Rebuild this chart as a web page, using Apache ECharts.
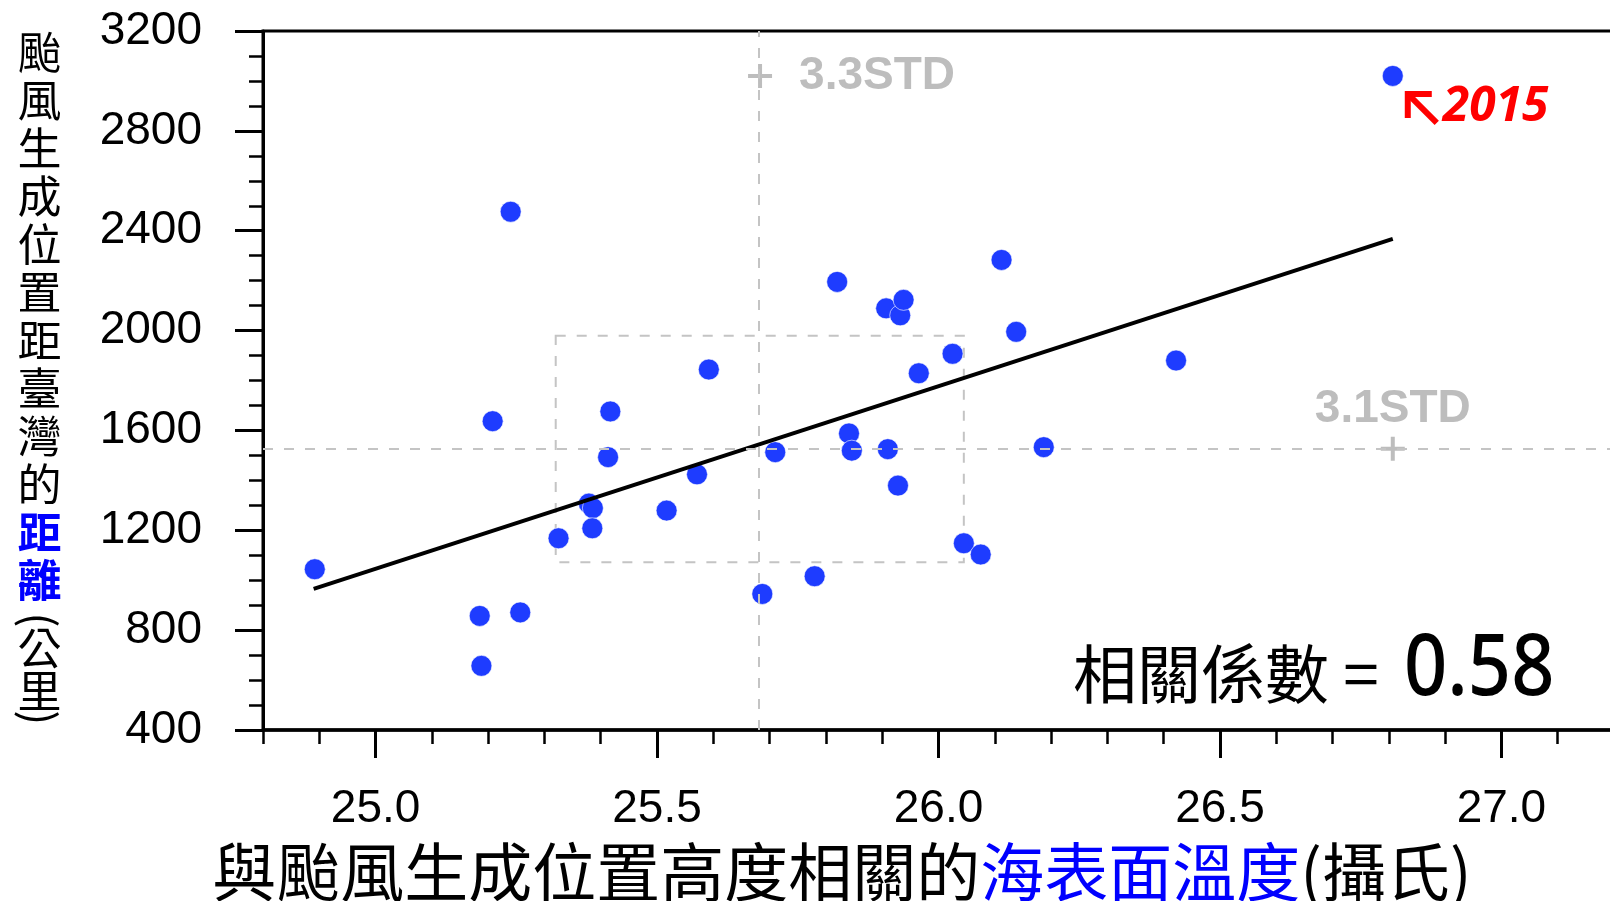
<!DOCTYPE html>
<html><head><meta charset="utf-8">
<script src="https://cdn.jsdelivr.net/npm/echarts@6/dist/echarts.min.js"></script>
<style>html,body{margin:0;padding:0;background:#fff}#c{width:1610px;height:901px}</style>
</head><body><div id="c"></div>
<script>
// ---- data ----
const sstX = [24.892, 25.240, 25.208, 25.185, 25.188, 25.257, 25.325, 25.379, 25.386, 25.385,
              25.413, 25.417, 25.517, 25.571, 25.592, 25.687, 25.710, 25.780, 25.820, 25.841,
              25.846, 25.907, 25.910, 25.928, 25.932, 25.938, 25.965, 26.025, 26.045, 26.075,
              26.112, 26.138, 26.187, 26.422, 26.807];
const distY = [1044, 2476, 1637, 857, 657, 871, 1168, 1307, 1289, 1208,
               1493, 1676, 1279, 1424, 1844, 945, 1513, 1016, 2195, 1588,
               1519, 2089, 1525, 1379, 2061, 2123, 1829, 1907, 1148, 1103,
               2283, 1995, 1533, 1880, 3020];
const xTickValues = [25.0, 25.5, 26.0, 26.5, 27.0];
const yTickValues = [400, 800, 1200, 1600, 2000, 2400, 2800, 3200];
const regX = [24.89, 26.807];
const regY = [965, 2367];
const meanX = 25.683, meanY = 1527;
const boxX = [25.32, 26.045];
const boxY = [1072, 1979];
const stdMarkX = [25.683, 26.807];
const stdMarkY = [3020, 1527];
const stdLabels = ['3.3STD', '3.1STD'];
const highlightIndex = 34;
const highlightLabel = '2015';
const corrLabel = '相關係數 =';
const corrValue = '0.58';

const chart = echarts.init(document.getElementById('c'));
const GRAY = '#bdbdbd';
const tickFont = 'Liberation Sans';

const option = {
  animation: false,
  backgroundColor: '#fff',
  grid: {left: 263, top: 31, width: 1351, height: 699, show: true, borderColor: '#000', borderWidth: 3,
         backgroundColor: 'rgba(0,0,0,0)', containLabel: false, outerBoundsMode: 'none'},
  xAxis: [
    {type: 'value', min: 24.8, max: 27.2, splitNumber: 5, position: 'bottom',
     axisLine: {show: true, onZero: false, lineStyle: {color: '#000', width: 3.5}},
     axisTick: {show: true, length: 28, lineStyle: {color: '#000', width: 3}, customValues: xTickValues},
     axisLabel: {customValues: xTickValues, margin: 56, fontFamily: tickFont, fontSize: 46, color: '#000',
                 formatter: v => Number(v).toFixed(1)},
     splitLine: {show: false}},
    {type: 'value', min: 24.8, max: 27.2, interval: 0.1, position: 'bottom',
     axisLine: {show: false, onZero: false},
     axisTick: {show: true, length: 14, lineStyle: {color: '#000', width: 2.5}},
     axisLabel: {show: false}, splitLine: {show: false}}
  ],
  yAxis: {type: 'value', min: yTickValues[0], max: yTickValues[yTickValues.length - 1], interval: 400,
    axisLine: {show: true, onZero: false, lineStyle: {color: '#000', width: 3}},
    axisTick: {show: true, length: 28, lineStyle: {color: '#000', width: 3}},
    minorTick: {show: true, splitNumber: 4, length: 14, lineStyle: {color: '#000', width: 2.5}},
    axisLabel: {margin: 61, fontFamily: tickFont, fontSize: 46, color: '#000', formatter: v => String(v)},
    splitLine: {show: false}, minorSplitLine: {show: false}},
  series: [
    {type: 'scatter', name: 'std', z: 2, xAxisIndex: 0, yAxisIndex: 0,
     symbol: 'path://M5,0H7V5H12V7H7V12H5V7H0V5H5Z', symbolSize: 24,
     itemStyle: {color: GRAY, opacity: 1},
     label: {show: true, fontFamily: tickFont, fontWeight: 'bold', fontSize: 46, color: GRAY},
     data: stdMarkX.map((x, i) => ({
       value: [x, stdMarkY[i]],
       label: i === 0 ? {position: 'right', distance: 27, formatter: stdLabels[i]}
                      : {position: 'top', distance: 4, formatter: stdLabels[i]}
     })),
     markLine: {silent: true, symbol: ['none', 'none'], label: {show: false},
       lineStyle: {color: '#c4c4c4', width: 2, type: [10, 11], opacity: 1},
       data: [{xAxis: meanX}, {yAxis: meanY}]},
     markArea: {silent: true,
       itemStyle: {color: 'rgba(0,0,0,0)', borderColor: '#c4c4c4', borderWidth: 2, borderType: [10, 11]},
       data: [[{xAxis: boxX[0], yAxis: boxY[1]}, {xAxis: boxX[1], yAxis: boxY[0]}]]}
    },
    {type: 'scatter', name: 'points', z: 3, xAxisIndex: 0, yAxisIndex: 0,
     symbolSize: 21,
     itemStyle: {color: '#1e3cff', opacity: 1, borderColor: 'rgba(255,255,255,0.6)', borderWidth: 1},
     data: sstX.map((x, i) => [x, distY[i]])},
    {type: 'line', name: 'reg', z: 4, xAxisIndex: 0, yAxisIndex: 0,
     showSymbol: false, symbol: 'none',
     lineStyle: {color: '#000', width: 4},
     data: regX.map((x, i) => [x, regY[i]])}
  ]
};
chart.setOption(option);

const p = chart.convertToPixel({xAxisIndex: 0, yAxisIndex: 0}, [sstX[highlightIndex], distY[highlightIndex]]);
const cx = p[0] + 15, cy = p[1] + 18;
const cjk = '"Noto Sans CJK TC", "Noto Sans CJK SC", sans-serif';

chart.setOption({graphic: [
  // y-axis title (vertical)
  {type: 'text', x: 39.5, y: 28, style: {text: '颱\n風\n生\n成\n位\n置\n距\n臺\n灣\n的', font: '44px ' + cjk,
    lineHeight: 48, align: 'center', verticalAlign: 'top', fill: '#000'}},
  {type: 'text', x: 39.5, y: 508, style: {text: '距\n離', font: 'bold 44px ' + cjk,
    lineHeight: 48, align: 'center', verticalAlign: 'top', fill: '#0000ff'}},
  {type: 'text', x: 39.5, y: 620, rotation: -Math.PI / 2, style: {text: '(', font: '44px ' + cjk,
    align: 'center', verticalAlign: 'middle', fill: '#000'}},
  {type: 'text', x: 39.5, y: 648, style: {text: '公', font: '44px ' + cjk,
    align: 'center', verticalAlign: 'middle', fill: '#000'}},
  {type: 'text', x: 39.5, y: 691, style: {text: '里', font: '44px ' + cjk,
    align: 'center', verticalAlign: 'middle', fill: '#000'}},
  {type: 'text', x: 39.5, y: 718, rotation: -Math.PI / 2, style: {text: ')', font: '44px ' + cjk,
    align: 'center', verticalAlign: 'middle', fill: '#000'}},
  // x-axis title
  {type: 'text', x: 842, y: 872, style: {
    text: '{k|與颱風生成位置高度相關的}{b|海表面溫度}{k|(攝氏)}',
    font: '64px ' + cjk, align: 'center', verticalAlign: 'middle',
    rich: {k: {fill: '#000', fontSize: 64, fontFamily: cjk},
           b: {fill: '#0000ff', fontSize: 64, fontFamily: cjk}}}},
  // correlation
  {type: 'text', x: 1073, y: 674, style: {text: corrLabel, font: '64px ' + cjk,
    align: 'left', verticalAlign: 'middle', fill: '#000'}},
  {type: 'text', x: 1404, y: 670, scaleX: 0.88, style: {text: corrValue, font: '500 86px "Noto Sans", sans-serif',
    align: 'left', verticalAlign: 'middle', fill: '#000'}},
  // 2015 annotation
  {type: 'polyline', shape: {points: [[cx, cy + 24], [cx, cy], [cx + 24, cy]]},
    style: {stroke: '#ff0000', lineWidth: 6, fill: null, lineJoin: 'miter'}},
  {type: 'line', shape: {x1: cx + 1, y1: cy + 1, x2: cx + 29, y2: cy + 29},
    style: {stroke: '#ff0000', lineWidth: 6}},
  {type: 'text', x: p[0] + 50, y: p[1] + 31, style: {text: highlightLabel,
    font: 'italic bold 48px "Open Sans", sans-serif', align: 'left', verticalAlign: 'middle', fill: '#ff0000'}}
]});
</script>
</body></html>
